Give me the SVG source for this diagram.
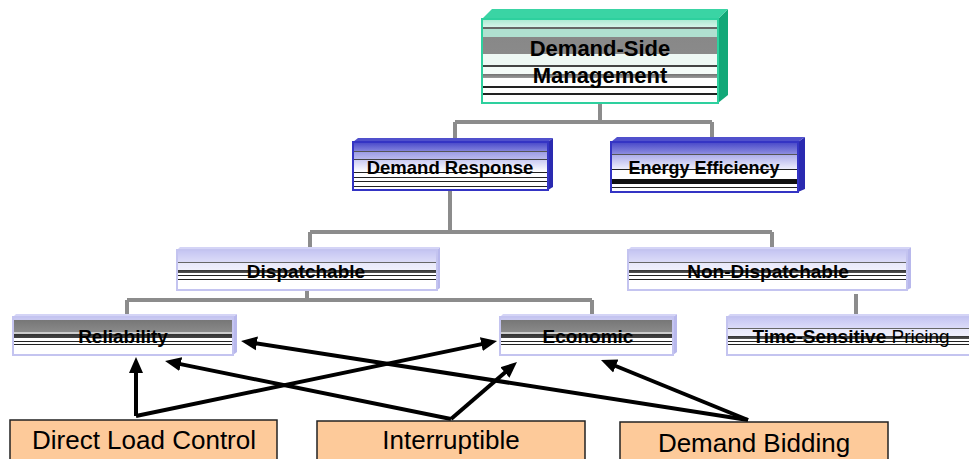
<svg xmlns="http://www.w3.org/2000/svg" width="969" height="459" viewBox="0 0 969 459">
<style>
.lbl{font-family:"Liberation Sans",Arial,sans-serif;font-weight:bold;fill:#000;text-anchor:middle}
.big{font-family:"Liberation Sans",Arial,sans-serif;font-size:26px;fill:#000;text-anchor:middle}
.conn{fill:none;stroke:#8c8c8c;stroke-width:4}
.arr{fill:none;stroke:#000;stroke-width:4;marker-end:url(#ah)}
.lavside{fill:#b8b8ec}
.lavtop{fill:#d4d4f6}
.lavface{stroke:#c4c4f0;stroke-width:2}
.blueside{fill:#2a2ab0}
.bluetop{fill:#5050cc}
.blueface{stroke:#3434c4;stroke-width:2}
.src{fill:#fdca9a;stroke:#222;stroke-width:1.5}
</style>
<defs>
<marker id="ah" markerUnits="userSpaceOnUse" markerWidth="18" markerHeight="16" refX="4" refY="8" orient="auto">
<path d="M0,1 L16,8 L0,15 z" fill="#000"/>
</marker>
<linearGradient id="gTeal" x1="0" y1="0" x2="0" y2="1">
<stop offset="0" stop-color="#a8e8d0"/><stop offset="0.10" stop-color="#d8f4ea"/>
<stop offset="0.10" stop-color="#666"/><stop offset="0.12" stop-color="#666"/>
<stop offset="0.12" stop-color="#b0e0d0"/><stop offset="0.22" stop-color="#b0e0d0"/>
<stop offset="0.22" stop-color="#888"/><stop offset="0.42" stop-color="#8a8a8a"/>
<stop offset="0.42" stop-color="#eef8f4"/><stop offset="0.55" stop-color="#eef8f4"/>
<stop offset="0.55" stop-color="#444"/><stop offset="0.57" stop-color="#444"/>
<stop offset="0.57" stop-color="#f4fbf8"/><stop offset="0.66" stop-color="#f4fbf8"/>
<stop offset="0.66" stop-color="#777"/><stop offset="0.70" stop-color="#999"/>
<stop offset="0.70" stop-color="#fff"/><stop offset="0.80" stop-color="#fff"/>
<stop offset="0.80" stop-color="#222"/><stop offset="0.82" stop-color="#222"/>
<stop offset="0.82" stop-color="#fff"/><stop offset="0.88" stop-color="#fff"/>
<stop offset="0.88" stop-color="#222"/><stop offset="0.90" stop-color="#222"/>
<stop offset="0.90" stop-color="#fff"/><stop offset="1" stop-color="#fff"/>
</linearGradient>
<linearGradient id="gBlue" x1="0" y1="0" x2="0" y2="1">
<stop offset="0" stop-color="#4646c8"/><stop offset="0.18" stop-color="#8080dc"/>
<stop offset="0.18" stop-color="#555"/><stop offset="0.21" stop-color="#555"/>
<stop offset="0.21" stop-color="#9c9ce4"/><stop offset="0.35" stop-color="#b8b8ee"/>
<stop offset="0.35" stop-color="#444"/><stop offset="0.37" stop-color="#444"/>
<stop offset="0.37" stop-color="#cacaf2"/><stop offset="0.62" stop-color="#fff"/>
<stop offset="0.62" stop-color="#222"/><stop offset="0.64" stop-color="#222"/>
<stop offset="0.64" stop-color="#fff"/><stop offset="0.72" stop-color="#fff"/>
<stop offset="0.72" stop-color="#222"/><stop offset="0.74" stop-color="#222"/>
<stop offset="0.74" stop-color="#fff"/><stop offset="0.82" stop-color="#fff"/>
<stop offset="0.82" stop-color="#222"/><stop offset="0.84" stop-color="#222"/>
<stop offset="0.84" stop-color="#fff"/><stop offset="0.92" stop-color="#fff"/>
<stop offset="0.92" stop-color="#222"/><stop offset="0.94" stop-color="#222"/>
<stop offset="0.94" stop-color="#fff"/><stop offset="1" stop-color="#fff"/>
</linearGradient>
<linearGradient id="gBlue2" x1="0" y1="0" x2="0" y2="1">
<stop offset="0" stop-color="#4646c8"/><stop offset="0.25" stop-color="#9090e0"/>
<stop offset="0.25" stop-color="#555"/><stop offset="0.27" stop-color="#555"/>
<stop offset="0.27" stop-color="#b0b0ea"/><stop offset="0.55" stop-color="#f0f0fc"/>
<stop offset="0.55" stop-color="#222"/><stop offset="0.57" stop-color="#222"/>
<stop offset="0.57" stop-color="#fff"/><stop offset="0.74" stop-color="#fff"/>
<stop offset="0.74" stop-color="#111"/><stop offset="0.84" stop-color="#111"/>
<stop offset="0.84" stop-color="#fff"/><stop offset="0.90" stop-color="#fff"/>
<stop offset="0.90" stop-color="#222"/><stop offset="0.92" stop-color="#222"/>
<stop offset="0.92" stop-color="#fff"/><stop offset="1" stop-color="#fff"/>
</linearGradient>
<linearGradient id="gLav" x1="0" y1="0" x2="0" y2="1">
<stop offset="0" stop-color="#c4c4f2"/><stop offset="0.30" stop-color="#dcdcf8"/>
<stop offset="0.30" stop-color="#666"/><stop offset="0.32" stop-color="#666"/>
<stop offset="0.32" stop-color="#e8e8fa"/><stop offset="0.50" stop-color="#f0f0fc"/>
<stop offset="0.50" stop-color="#333"/><stop offset="0.58" stop-color="#555"/>
<stop offset="0.58" stop-color="#fff"/><stop offset="0.63" stop-color="#fff"/>
<stop offset="0.63" stop-color="#222"/><stop offset="0.66" stop-color="#222"/>
<stop offset="0.66" stop-color="#fff"/><stop offset="0.72" stop-color="#fff"/>
<stop offset="0.72" stop-color="#222"/><stop offset="0.75" stop-color="#222"/>
<stop offset="0.75" stop-color="#fff"/><stop offset="1" stop-color="#fff"/>
</linearGradient>
<linearGradient id="gGray" x1="0" y1="0" x2="0" y2="1">
<stop offset="0" stop-color="#c8c8f0"/><stop offset="0.08" stop-color="#c8c8f0"/>
<stop offset="0.08" stop-color="#777"/><stop offset="0.40" stop-color="#8a8a8a"/>
<stop offset="0.40" stop-color="#ccc"/><stop offset="0.45" stop-color="#ccc"/>
<stop offset="0.45" stop-color="#333"/><stop offset="0.55" stop-color="#444"/>
<stop offset="0.55" stop-color="#fff"/><stop offset="0.62" stop-color="#fff"/>
<stop offset="0.62" stop-color="#222"/><stop offset="0.65" stop-color="#222"/>
<stop offset="0.65" stop-color="#fff"/><stop offset="0.72" stop-color="#fff"/>
<stop offset="0.72" stop-color="#222"/><stop offset="0.75" stop-color="#222"/>
<stop offset="0.75" stop-color="#fff"/><stop offset="1" stop-color="#fff"/>
</linearGradient>
</defs>
<rect width="969" height="459" fill="#fff"/>

<g id="connectors">
<path class="conn" d="M600,103 V122 M455,122 H712 M455,122 V139 M712,122 V138"/>
<path class="conn" d="M450,190 V232 M310,232 H772 M310,232 V248 M772,232 V248"/>
<path class="conn" d="M307,290 V300 M127,300 H592 M127,300 V317 M592,300 V317"/>
<path class="conn" d="M856,294 V317"/>
<path class="arr" d="M136,416 L136,369"/>
<path class="arr" d="M136,416 L485.3,343.4"/>
<path class="arr" d="M451,419 L176.8,363.4"/>
<path class="arr" d="M451,419 L507.9,369.9"/>
<path class="arr" d="M748,420 L252.9,342.8"/>
<path class="arr" d="M748,420 L612.1,364.5"/>
</g>

<g id="n-dsm">
<polygon points="718,19 728,9 728,95 718,103" fill="#12a878"/>
<polygon points="482,19 492,9 728,9 718,19" fill="#3ad4a4"/>
<rect x="482" y="19" width="236" height="84" fill="url(#gTeal)" stroke="#2ed09e" stroke-width="2"/>
<text class="lbl" x="600" y="56" font-size="22">Demand-Side</text>
<text class="lbl" x="600" y="83" font-size="22">Management</text>
</g>

<g id="n-dr">
<polygon class="blueside" points="548,142 553,138 553,187 548,190"/>
<polygon class="bluetop" points="353,142 358,138 553,138 548,142"/>
<rect class="blueface" x="353" y="142" width="195" height="48" fill="url(#gBlue)"/>
<text class="lbl" x="450" y="174" font-size="18.5">Demand Response</text>
</g>

<g id="n-ee">
<polygon class="blueside" points="798,142 805,137 805,189 798,192"/>
<polygon class="bluetop" points="611,142 617,137 805,137 798,142"/>
<rect class="blueface" x="611" y="142" width="187" height="50" fill="url(#gBlue2)"/>
<text class="lbl" x="704" y="174" font-size="18">Energy Efficiency</text>
</g>

<g id="n-disp">
<polygon class="lavside" points="437,250 440,247 440,288 437,290"/>
<polygon class="lavtop" points="177,250 180,247 440,247 437,250"/>
<rect class="lavface" x="177" y="250" width="260" height="40" fill="url(#gLav)"/>
<text class="lbl" x="306" y="278" font-size="19">Dispatchable</text>
</g>

<g id="n-ndisp">
<polygon class="lavside" points="907,250 911,247 911,288 907,290"/>
<polygon class="lavtop" points="628,250 631,247 911,247 907,250"/>
<rect class="lavface" x="628" y="250" width="279" height="40" fill="url(#gLav)"/>
<text class="lbl" x="768" y="278" font-size="19">Non-Dispatchable</text>
</g>

<g id="n-rel">
<polygon class="lavside" points="233,317 237,314 237,352 233,355"/>
<polygon class="lavtop" points="13,317 16,314 237,314 233,317"/>
<rect class="lavface" x="13" y="317" width="220" height="38" fill="url(#gGray)"/>
<text class="lbl" x="123" y="343" font-size="19">Reliability</text>
</g>

<g id="n-eco">
<polygon class="lavside" points="673,317 677,314 677,352 673,355"/>
<polygon class="lavtop" points="500,317 503,314 677,314 673,317"/>
<rect class="lavface" x="500" y="317" width="173" height="38" fill="url(#gGray)"/>
<text class="lbl" x="588" y="343" font-size="19">Economic</text>
</g>

<g id="n-tsp">
<polygon class="lavtop" points="727,317 730,314 975,314 975,317"/>
<rect class="lavface" x="727" y="317" width="250" height="38" fill="url(#gLav)"/>
<text class="lbl" x="851" y="343" font-size="19">Time-Sensitive <tspan font-weight="normal">Pricing</tspan></text>
</g>

<g id="n-dlc">
<rect class="src" x="10" y="420" width="267" height="45"/>
<text class="big" x="144" y="449">Direct Load Control</text>
</g>

<g id="n-int">
<rect class="src" x="317" y="421" width="268" height="45"/>
<text class="big" x="451" y="449">Interruptible</text>
</g>

<g id="n-db">
<rect class="src" x="620" y="422" width="268" height="45"/>
<text class="big" x="754" y="452">Demand Bidding</text>
</g>
</svg>
